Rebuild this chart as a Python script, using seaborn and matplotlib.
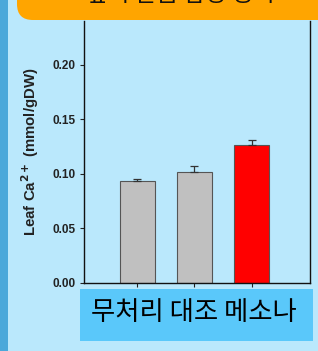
import matplotlib
matplotlib.use("Agg")
import matplotlib.pyplot as plt
from matplotlib.patches import FancyBboxPatch, Rectangle
import seaborn as sns
import pandas as pd

# data
groups = ["무처리", "대조", "메소나"]
leaf_ca = [0.093, 0.1015, 0.126]
leaf_ca_err = [0.0025, 0.006, 0.005]
bar_colors = ["#C0C0C0", "#C0C0C0", "#FF0000"]
yticks = [0.00, 0.05, 0.10, 0.15, 0.20]

sns.set_style("white")
plt.rcParams['font.family'] = ['Liberation Sans', 'DejaVu Sans']

bg = "#BAE8FC"
fig = plt.figure(figsize=(3.18, 3.51), dpi=100, facecolor=bg)
ax = fig.add_axes([0.264, 0.194, 0.711, 0.746], facecolor=bg)

df = pd.DataFrame({"group": groups, "ca": leaf_ca})
sns.barplot(data=df, x="group", y="ca", hue="group", palette=bar_colors, saturation=1,
            width=0.61, edgecolor="#555555", linewidth=0.8, legend=False, ax=ax)
ax.errorbar(range(len(groups)), leaf_ca, yerr=[[0] * len(groups), leaf_ca_err],
            fmt="none", ecolor="#333333", elinewidth=0.9, capsize=3, capthick=0.9)

ax.set_xlim(-0.93, 3.02)
ax.set_ylim(0, 0.24)
ax.set_yticks(yticks)
ax.set_yticklabels([f"{t:.2f}" for t in yticks], fontsize=8.5, fontweight="bold", color="#222222")
ax.set_xticks(range(len(groups)))
ax.set_xticklabels([])
ax.set_xlabel("")
ax.set_ylabel("Leaf Ca$^{\\mathbf{2+}}$ (mmol/gDW)", fontsize=10.8, fontweight="bold",
              color="#222222")
ax.yaxis.set_label_coords(-0.19, 0.5)
ax.tick_params(axis="both", direction="out", length=3, width=0.8, color="#222222", left=True, bottom=True)
ax.tick_params(axis="y", pad=3)
for side in ["left", "bottom", "right"]:
    ax.spines[side].set_color("#111111")
    ax.spines[side].set_linewidth(1.0)
ax.spines["top"].set_visible(False)

# left darker strip
fig.patches.append(Rectangle((0, 0), 8 / 318, 1, transform=fig.transFigure,
                             facecolor="#4BA8DA", edgecolor="none", zorder=5))

# orange title banner, mostly cut off at the top
banner = FancyBboxPatch((17 / 318, 1 - 20 / 351), 330 / 318, 60 / 351,
                        boxstyle="round,pad=0,rounding_size=0.05",
                        transform=fig.transFigure, facecolor="#FFA500",
                        edgecolor="none", zorder=6,
                        mutation_aspect=318 / 351)
fig.patches.append(banner)
fig.text(0.57, 1 + 5 / 351, "잎의 칼슘 함량 증가", ha="center", va="center",
         fontsize=17, family=["Noto Sans CJK KR", "DejaVu Sans"], color="#111111", zorder=7)

# category label box
fig.patches.append(Rectangle((80 / 318, 1 - 341 / 351), 233 / 318, 52 / 351,
                             transform=fig.transFigure, facecolor="#5AC8FA",
                             edgecolor="none", zorder=5))
fig.text(194 / 318, 1 - 313 / 351, " ".join(groups), ha="center", va="center",
         fontsize=19, family=["Noto Sans CJK KR", "DejaVu Sans"], color="#000000", zorder=6)

fig.savefig("out.png", dpi=100, facecolor=bg)
